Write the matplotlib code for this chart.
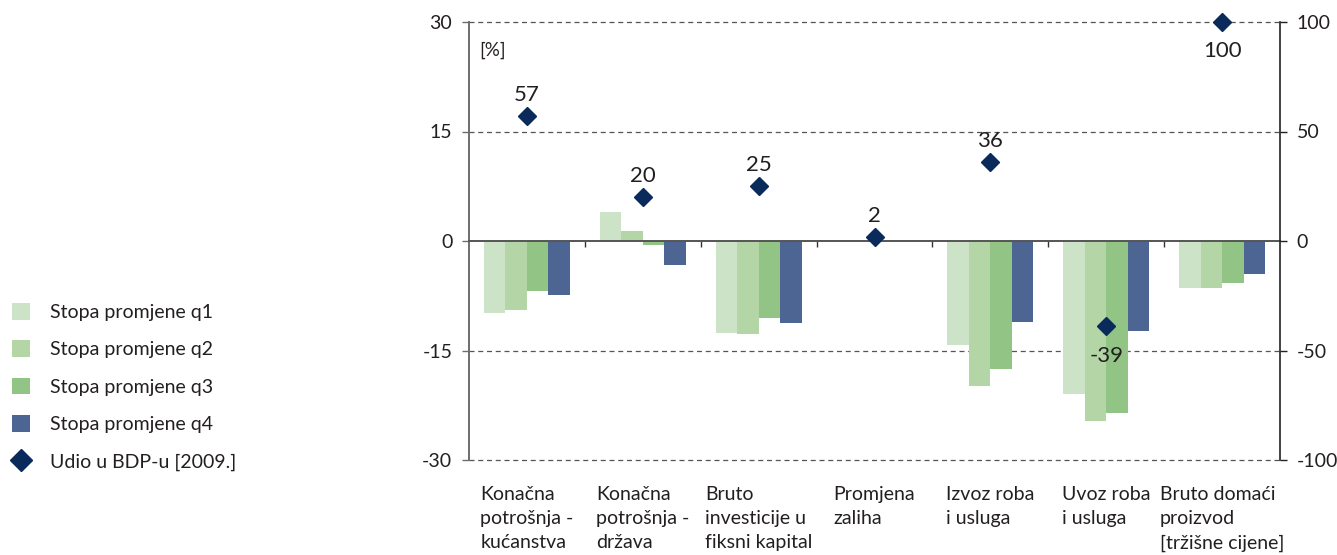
import matplotlib.pyplot as plt
import numpy as np
from matplotlib.patches import Patch
from matplotlib.lines import Line2D

# ===============================
# Data
# ===============================
categories = [
    "Konačna\npotrošnja -\nkućanstva",
    "Konačna\npotrošnja -\ndržava",
    "Bruto\ninvesticije u\nfiksni kapital",
    "Promjena\nzaliha",
    "Izvoz roba\ni usluga",
    "Uvoz roba\ni usluga",
    "Bruto domaći\nproizvod\n[tržišne cijene]",
]
q1 = [-9.9, 4.0, -12.6, 0.0, -14.2, -21.0, -6.5]
q2 = [-9.4, 1.4, -12.7, 0.0, -19.8, -24.7, -6.4]
q3 = [-6.8, -0.6, -10.5, 0.0, -17.6, -23.5, -5.7]
q4 = [-7.4, -3.3, -11.3, 0.0, -11.1, -12.3, -4.5]
udio = [57, 20, 25, 2, 36, -39, 100]
udio_label_below = [False, False, False, False, False, True, True]

series_names = ["Stopa promjene q1", "Stopa promjene q2",
                "Stopa promjene q3", "Stopa promjene q4"]
udio_name = "Udio u BDP-u [2009.]"

colors = ["#cde3c7", "#b4d6a7", "#92c585", "#4d6592"]
diamond_color = "#0b2a5c"
text_color = "#231f20"

plt.rcParams['font.family'] = ['Lato', 'DejaVu Sans']

# ===============================
# Figure
# ===============================
fig = plt.figure(figsize=(13.37, 5.55), dpi=100)
ax = fig.add_axes([469 / 1337, 1 - 460 / 555, (1280 - 469) / 1337, 438 / 555])

x = np.arange(len(categories))
w = 0.185
offsets = [-1.5 * w, -0.5 * w, 0.5 * w, 1.5 * w]
for vals, off, c in zip([q1, q2, q3, q4], offsets, colors):
    ax.bar(x + off, vals, width=w, color=c, zorder=2)

ax.set_xlim(-0.5, len(categories) - 0.5)
ax.set_ylim(-30, 30)
ax.set_yticks([-30, -15, 0, 15, 30])
ax.set_yticklabels(["-30", "-15", "0", "15", "30"])

# gridlines
for yv in [-30, -15, 15, 30]:
    ax.axhline(yv, color="#555555", lw=0.9, ls=(0, (4, 3)), zorder=1, clip_on=False)

# zero line as the x axis with boundary ticks
ax.spines['bottom'].set_position(('data', 0))
ax.spines['bottom'].set_color("#555555")
ax.spines['bottom'].set_linewidth(1.4)
ax.spines['bottom'].set_zorder(3)
ax.spines['top'].set_visible(False)
ax.spines['right'].set_visible(False)
ax.spines['left'].set_color("#6d6d6d")
ax.spines['left'].set_linewidth(1.4)

ax.set_xticks(np.arange(0.5, len(categories) - 0.5, 1.0))
ax.set_xticklabels([])
ax.tick_params(axis='x', direction='out', length=4, width=1.0, color="#333333")
ax.tick_params(axis='y', direction='out', length=5, width=1.0, color="#6d6d6d",
               labelsize=14, labelcolor=text_color, pad=7)

for xi, lab in zip(x, categories):
    ax.annotate(lab, xy=(xi, 0), xycoords=('data', 'axes fraction'),
                xytext=(0, -19), textcoords='offset points',
                ha='center', va='top', multialignment='left',
                fontsize=14, color=text_color, linespacing=1.5)

ax.text(0.013, 0.955, "[%]", transform=ax.transAxes, fontsize=13.5,
        color=text_color, va='top', ha='left')

# right axis
ax2 = ax.twinx()
ax2.set_ylim(-100, 100)
ax2.set_yticks([-100, -50, 0, 50, 100])
ax2.set_yticklabels(["-100", "-50", "0", "50", "100"])
for s in ['top', 'bottom', 'left']:
    ax2.spines[s].set_visible(False)
ax2.spines['right'].set_color("#222222")
ax2.spines['right'].set_linewidth(1.2)
ax2.tick_params(axis='y', direction='out', length=5, width=1.0, color="#222222",
                labelsize=14, labelcolor=text_color, pad=7)

ax2.plot(x, udio, ls='none', marker='D', markersize=9.5, color=diamond_color,
         clip_on=False, zorder=5)
for xi, v, below in zip(x, udio, udio_label_below):
    if below:
        ax2.annotate(str(v), xy=(xi, v), xytext=(0, -14), textcoords='offset points',
                     ha='center', va='top', fontsize=16, color=text_color)
    else:
        ax2.annotate(str(v), xy=(xi, v), xytext=(0, 8), textcoords='offset points',
                     ha='center', va='bottom', fontsize=16, color=text_color)

# legend
handles = [Patch(facecolor=c, edgecolor='none') for c in colors]
handles.append(Line2D([], [], ls='none', marker='D', markersize=11.5, color=diamond_color))
fig.legend(handles, series_names + [udio_name], loc='upper left',
           bbox_to_anchor=(12 / 1337, 1 - 303 / 555), frameon=False, fontsize=14,
           handlelength=0.93, handleheight=0.93, handletextpad=1.05,
           labelspacing=1.0, borderaxespad=0.0, borderpad=0.0,
           labelcolor=text_color)

fig.savefig("out.png", dpi=100)
plt.close()
